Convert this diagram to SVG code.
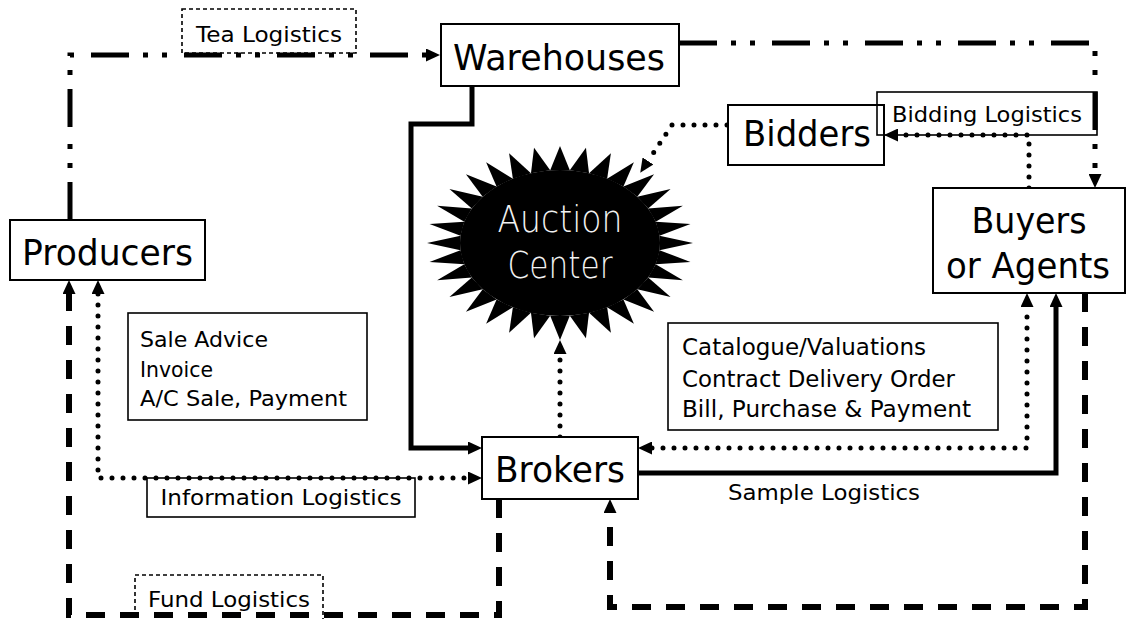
<svg xmlns="http://www.w3.org/2000/svg" xmlns:xlink="http://www.w3.org/1999/xlink" width="1129" height="619" viewBox="0 0 1129 619">
<style>
.box{fill:#fff;stroke:#000;stroke-width:2}
.lbl{fill:none;stroke:#000;stroke-width:1.6}
.dlbl{fill:none;stroke:#000;stroke-width:1.6;stroke-dasharray:4 3}
.t{font-family:"DejaVu Sans",Verdana,sans-serif;fill:#000}
.big{font-size:36px}
.sm{font-size:22px}
.c{fill:none;stroke:#000}
.solid{stroke-width:5}
.dot{stroke-width:5;stroke-linecap:round;stroke-dasharray:0 11}
.dash{stroke-width:6;stroke-dasharray:19 15}
.dd{stroke-width:5;stroke-dasharray:38 14 5 14 5 17}
</style>
<defs>
<marker id="arr" viewBox="0 0 14 13" refX="0" refY="6.5" markerWidth="14" markerHeight="13" markerUnits="userSpaceOnUse" orient="auto-start-reverse"><path d="M0,0 L14,6.5 L0,13z" fill="#000"/></marker>
<polygon id="spike" points="133,0 99.5,-9.8 99.5,9.8" fill="#000"/>
</defs>
<rect width="1129" height="619" fill="#fff"/>

<g id="connectors">
<path class="c dd" d="M70,220 V55 H426" marker-end="url(#arr)"/>
<path class="c dd" d="M679,43 H1095 V174" marker-end="url(#arr)"/>
<path class="c solid" d="M472,86 V124 H411 V448 H468" marker-end="url(#arr)"/>
<path class="c dot" d="M727,125 H672 L648,161" marker-end="url(#arr)"/>
<path class="c dot" d="M1029,188 V135 H898" marker-end="url(#arr)"/>
<path class="c dot" d="M560,437 V354" marker-end="url(#arr)"/>
<path class="c dot" d="M98,294 V478 H468" marker-start="url(#arr)" marker-end="url(#arr)"/>
<path class="c dash" d="M499,499 V615 H69 V294" marker-end="url(#arr)"/>
<path class="c dot" d="M652,448 H1027 V307" marker-start="url(#arr)" marker-end="url(#arr)"/>
<path class="c solid" d="M638,473 H1056 V307" marker-end="url(#arr)"/>
<path class="c dash" d="M1085,293 V607 H610 V513" marker-end="url(#arr)"/>
</g>

<g id="tea-logistics">
<rect class="dlbl" x="182" y="9" width="174" height="44"/>
<text class="t sm" x="269" y="42" text-anchor="middle" textLength="146" lengthAdjust="spacingAndGlyphs">Tea Logistics</text>
</g>

<g id="warehouses">
<rect class="box" x="441" y="24" width="238" height="62"/>
<text class="t big" x="559" y="70" text-anchor="middle" font-size="38" textLength="212" lengthAdjust="spacingAndGlyphs">Warehouses</text>
</g>

<g id="producers">
<rect class="box" x="10" y="220" width="195" height="60"/>
<text class="t big" x="107.5" y="265" text-anchor="middle" textLength="171" lengthAdjust="spacingAndGlyphs">Producers</text>
</g>

<g id="bidders">
<rect class="box" x="728" y="105" width="156" height="60"/>
<text class="t big" x="807" y="146" text-anchor="middle" textLength="128" lengthAdjust="spacingAndGlyphs">Bidders</text>
</g>

<g id="bidding-logistics">
<rect class="lbl" x="877" y="92" width="220" height="43"/>
<text class="t" x="987" y="122" font-size="21" text-anchor="middle" textLength="190" lengthAdjust="spacingAndGlyphs">Bidding Logistics</text>
</g>

<g id="buyers">
<rect class="box" x="933" y="188" width="192" height="105"/>
<text class="t big" x="1029" y="233" text-anchor="middle" textLength="115" lengthAdjust="spacingAndGlyphs">Buyers</text>
<text class="t big" x="1028" y="278" text-anchor="middle" textLength="164" lengthAdjust="spacingAndGlyphs">or Agents</text>
</g>

<g id="auction-center">
<g transform="translate(560,243) scale(1,0.73)">
<circle r="100" fill="#000"/>
<use href="#spike"/>
<use href="#spike" transform="rotate(11.25)"/>
<use href="#spike" transform="rotate(22.5)"/>
<use href="#spike" transform="rotate(33.75)"/>
<use href="#spike" transform="rotate(45)"/>
<use href="#spike" transform="rotate(56.25)"/>
<use href="#spike" transform="rotate(67.5)"/>
<use href="#spike" transform="rotate(78.75)"/>
<use href="#spike" transform="rotate(90)"/>
<use href="#spike" transform="rotate(101.25)"/>
<use href="#spike" transform="rotate(112.5)"/>
<use href="#spike" transform="rotate(123.75)"/>
<use href="#spike" transform="rotate(135)"/>
<use href="#spike" transform="rotate(146.25)"/>
<use href="#spike" transform="rotate(157.5)"/>
<use href="#spike" transform="rotate(168.75)"/>
<use href="#spike" transform="rotate(180)"/>
<use href="#spike" transform="rotate(191.25)"/>
<use href="#spike" transform="rotate(202.5)"/>
<use href="#spike" transform="rotate(213.75)"/>
<use href="#spike" transform="rotate(225)"/>
<use href="#spike" transform="rotate(236.25)"/>
<use href="#spike" transform="rotate(247.5)"/>
<use href="#spike" transform="rotate(258.75)"/>
<use href="#spike" transform="rotate(270)"/>
<use href="#spike" transform="rotate(281.25)"/>
<use href="#spike" transform="rotate(292.5)"/>
<use href="#spike" transform="rotate(303.75)"/>
<use href="#spike" transform="rotate(315)"/>
<use href="#spike" transform="rotate(326.25)"/>
<use href="#spike" transform="rotate(337.5)"/>
<use href="#spike" transform="rotate(348.75)"/>
</g>
<text class="t" x="560" y="232" font-size="38" font-weight="200" fill="#fff" style="fill:#f2f2f2" text-anchor="middle" textLength="125" lengthAdjust="spacingAndGlyphs">Auction</text>
<text class="t" x="560" y="278" font-size="38" font-weight="200" style="fill:#f2f2f2" text-anchor="middle" textLength="105" lengthAdjust="spacingAndGlyphs">Center</text>
</g>

<g id="sale-advice">
<rect class="lbl" x="128" y="313" width="239" height="107"/>
<text class="t sm" x="140" y="347" textLength="128" lengthAdjust="spacingAndGlyphs">Sale Advice</text>
<text class="t sm" x="140" y="377" textLength="73" lengthAdjust="spacingAndGlyphs">Invoice</text>
<text class="t sm" x="140" y="406" textLength="207" lengthAdjust="spacingAndGlyphs">A/C Sale, Payment</text>
</g>

<g id="catalogue">
<rect class="lbl" x="668" y="323" width="330" height="107"/>
<text class="t" x="682" y="355" font-size="23" textLength="244" lengthAdjust="spacingAndGlyphs">Catalogue/Valuations</text>
<text class="t" x="682" y="387" font-size="23" textLength="273" lengthAdjust="spacingAndGlyphs">Contract Delivery Order</text>
<text class="t" x="682" y="417" font-size="23" textLength="289" lengthAdjust="spacingAndGlyphs">Bill, Purchase &amp; Payment</text>
</g>

<g id="brokers">
<rect class="box" x="482" y="437" width="156" height="62"/>
<text class="t big" x="560" y="482" text-anchor="middle" textLength="130" lengthAdjust="spacingAndGlyphs">Brokers</text>
</g>

<g id="information-logistics">
<rect class="lbl" x="147" y="478" width="268" height="39"/>
<text class="t sm" x="281" y="505" text-anchor="middle" textLength="241" lengthAdjust="spacingAndGlyphs">Information Logistics</text>
</g>

<g id="sample-logistics">
<text class="t sm" x="728" y="500" textLength="192" lengthAdjust="spacingAndGlyphs">Sample Logistics</text>
</g>

<g id="fund-logistics">
<rect class="dlbl" x="135" y="575" width="188" height="50"/>
<text class="t sm" x="229" y="607" text-anchor="middle" textLength="162" lengthAdjust="spacingAndGlyphs">Fund Logistics</text>
</g>
</svg>
